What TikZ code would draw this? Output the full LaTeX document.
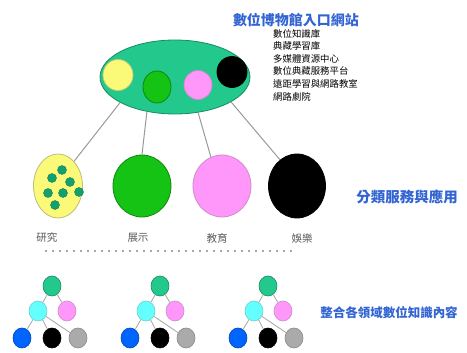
\documentclass[tikz,border=0pt]{standalone}
\usepackage{fontspec}
\newfontfamily\cjk{Noto Sans CJK TC}
\usetikzlibrary{shapes.geometric}
\definecolor{portal}{RGB}{34,200,140}
\definecolor{dteal}{RGB}{20,160,110}
\definecolor{cgreen}{RGB}{20,195,20}
\definecolor{cpink}{RGB}{255,150,250}
\definecolor{cyellow}{RGB}{250,250,120}
\definecolor{ccyan}{RGB}{100,255,255}
\definecolor{cblue}{RGB}{0,100,255}
\definecolor{cgray}{RGB}{170,170,170}
\definecolor{ltext}{RGB}{50,100,210}
\tikzset{
  blob/.style={ellipse, inner sep=0pt, line width=0.8pt},
  link/.style={draw=gray!80, line width=1pt},
  tlink/.style={draw=gray!70, line width=0.8pt},
  tn/.style={ellipse, inner sep=0pt, minimum width=18pt, minimum height=20pt, line width=0.6pt},
  dot/.style={circle, inner sep=0pt, minimum size=9pt, fill=dteal, draw=dteal!80!black, line width=0.4pt},
  bluelab/.style={text=ltext, inner sep=0pt},
  catlab/.style={font=\cjk\fontsize{10.5pt}{12pt}\selectfont, text=gray!70!black, inner sep=0pt}
}
\begin{document}
\begin{tikzpicture}[x=1pt,y=-1pt]
\useasboundingbox (0,0) rectangle (467,353);
% portal
\node[blob, fill=portal, draw=portal!70!black, minimum width=150pt, minimum height=74pt] (portal) at (175,77) {};
\node[blob, fill=cyellow, draw=cyellow!60!gray, minimum width=30pt, minimum height=31pt] (py) at (118,75) {};
\node[blob, fill=cgreen, draw=cgreen!70!black, minimum width=28pt, minimum height=32pt] (pg) at (157,87) {};
\node[blob, fill=cpink, draw=cpink!60!gray, minimum width=28pt, minimum height=29pt] (pp) at (198,85) {};
\node[blob, fill=black, draw=black, minimum width=30pt, minimum height=31pt] (pb) at (232,72) {};
% title and list
\node[bluelab, font=\cjk\bfseries\fontsize{14pt}{16pt}\selectfont] (title) at (296,20) {數位博物館入口網站};
\node[anchor=north west, align=left, inner sep=0pt, font=\cjk\fontsize{9.4pt}{12.6pt}\selectfont] (list) at (273,29)
  {數位知識庫\\典藏學習庫\\多媒體資源中心\\數位典藏服務平台\\遠距學習與網路教室\\網路劇院};
% middle categories
\node[blob, fill=cyellow, draw=cyellow!50!gray, minimum width=49pt, minimum height=64pt] (c1) at (58,186) {};
\node[blob, fill=cgreen, draw=cgreen!70!black, minimum width=58pt, minimum height=62pt] (c2) at (142,186) {};
\node[blob, fill=cpink, draw=cpink!60!gray, minimum width=58pt, minimum height=62pt] (c3) at (222,186) {};
\node[blob, fill=black, draw=black, minimum width=57pt, minimum height=64pt] (c4) at (297,186) {};
\foreach \n/\x/\y in {d1/62/170, d2/52/178, d3/70/182, d4/48/193, d5/63/193, d6/79/192, d7/55/205}
  \node[dot] (\n) at (\x,\y) {};
\draw[link] (portal.205) -- (c1.57);
\draw[link] (portal.231) -- (c2.90);
\draw[link] (portal.303) -- (c3.111);
\draw[link] (portal.336) -- (c4.123);
\node[catlab] (l1) at (47,238) {研究};
\node[catlab] (l2) at (138,238) {展示};
\node[catlab] (l3) at (217,238) {教育};
\node[catlab] (l4) at (302,238) {娛樂};
\coordinate (dl) at (45,251);
\coordinate (dr) at (296,251);
\draw[gray!70, line width=2.4pt, dash pattern=on 2.4pt off 4.6pt] (dl) -- (dr);
\node[bluelab, font=\cjk\bfseries\fontsize{14.5pt}{16pt}\selectfont] (cat) at (407,197) {分類服務與應用};
% trees
\foreach \i/\o in {1/0, 2/108, 3/216} {
  \node[tn, fill=portal, draw=portal!70!black] (t\i a) at (52+\o,286) {};
  \node[tn, fill=ccyan, draw=ccyan!60!gray] (t\i b) at (38+\o,311) {};
  \node[tn, fill=cpink, draw=cpink!60!gray] (t\i c) at (67+\o,311) {};
  \node[tn, fill=cblue, draw=cblue!70!black] (t\i d) at (22+\o,338) {};
  \node[tn, fill=black, draw=black] (t\i e) at (52+\o,338) {};
  \node[tn, fill=cgray, draw=cgray!80!black] (t\i f) at (78+\o,338) {};
  \draw[tlink] (t\i a) -- (t\i b);
  \draw[tlink] (t\i a) -- (t\i c);
  \draw[tlink] (t\i b) -- (t\i d);
  \draw[tlink] (t\i b) -- (t\i e);
  \draw[tlink] (t\i b) -- (t\i f);
}
\node[bluelab, font=\cjk\bfseries\fontsize{12.5pt}{14pt}\selectfont] (integ) at (389,313) {整合各領域數位知識內容};
\end{tikzpicture}
\end{document}
